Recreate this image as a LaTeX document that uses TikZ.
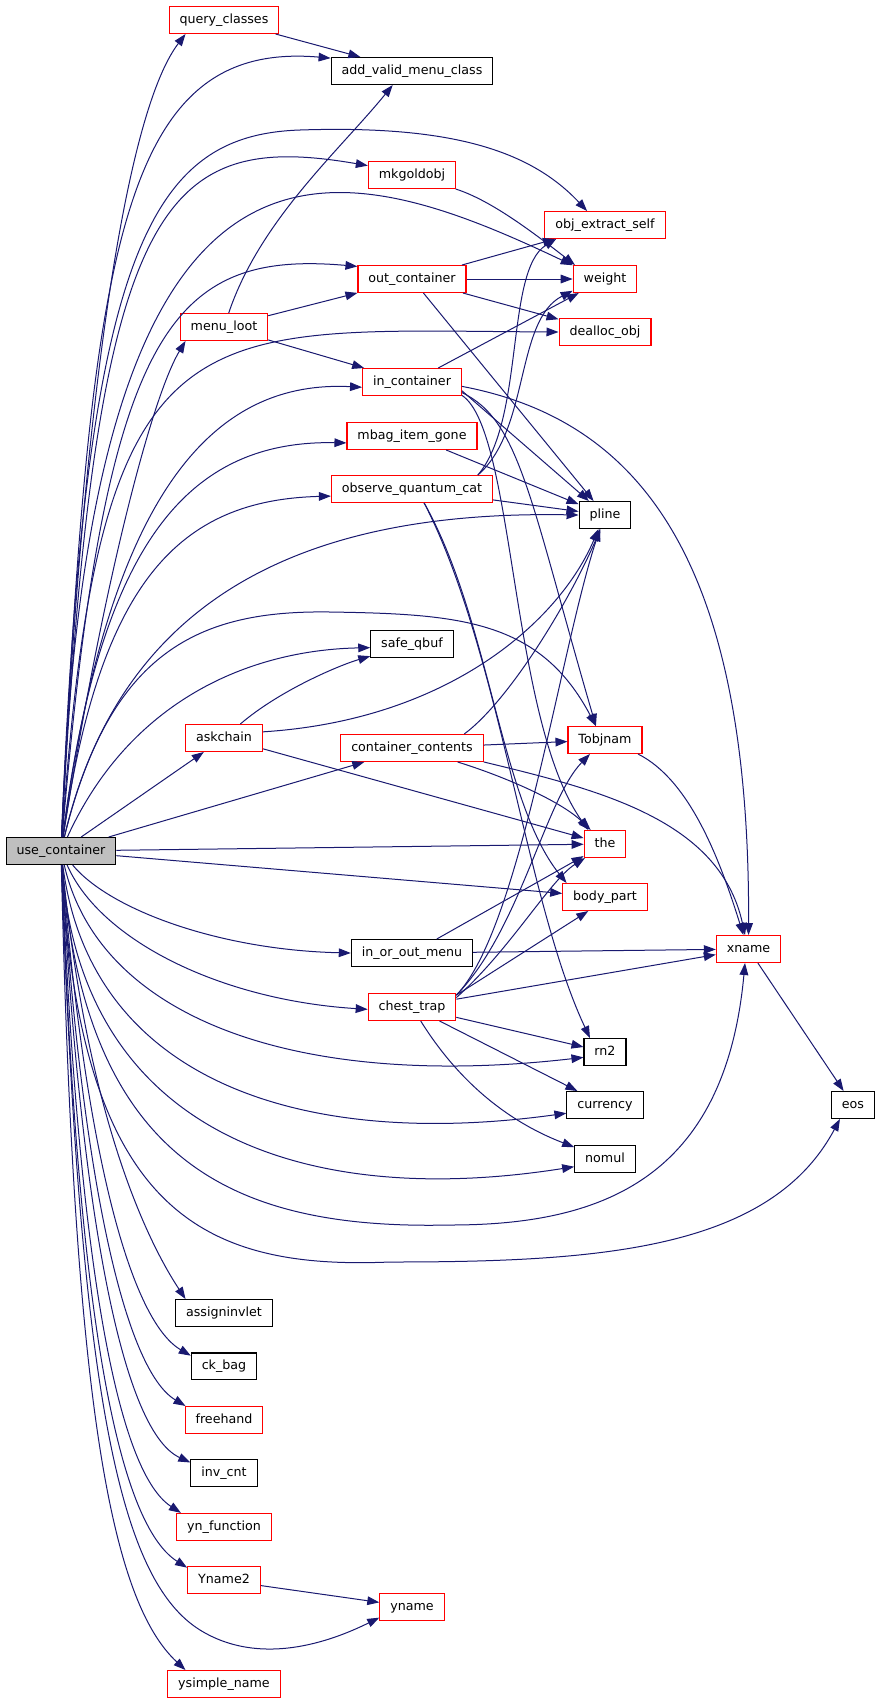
\documentclass[tikz,border=0pt]{standalone}
\usepackage{fontspec}
\setmainfont{DejaVu Sans}
\usepackage{xcolor}
\usepackage{tikz}
\usetikzlibrary{positioning,arrows.meta}
\definecolor{edgeblue}{HTML}{191970}
\definecolor{rootgrey}{HTML}{BFBFBF}
\begin{document}
\begin{tikzpicture}[x=0.75pt, y=-0.75pt, node distance={19.1pt},
  nodebox/.style = {draw, rectangle, line width=0.8pt, minimum height=20.2pt, inner xsep=7.85pt, inner ysep=0pt,
    text height=7.3pt, text depth=2.1pt, font=\fontsize{9.5pt}{11pt}\selectfont},
  redbox/.style = {nodebox, draw=red},
  blackbox/.style = {nodebox, draw=black},
  rootbox/.style = {nodebox, draw=black, fill=rootgrey},
  calls/.style = {->, draw=edgeblue, line width=0.75pt},
  >={Triangle[length=9pt, width=6.5pt]}]
      \path[use as bounding box, fill=white] (0,0) rectangle (877,1704);
      \node[rootbox] (use_container) at (61,851) {use\_container};
      \node[redbox] (query_classes) at (224,20) {query\_classes};
      \node[blackbox] (add_valid_menu_class) at (412,71) {add\_valid\_menu\_class};
      \node[redbox] (mkgoldobj) at (412,175) {mkgoldobj};
      \node[redbox] (obj_extract_self) at (605,225) {obj\_extract\_self};
      \node[redbox] (out_container) at (412,279) {out\_container};
      \node[redbox] (weight) at (605,279) {weight};
      \node[redbox] (menu_loot) at (224,327) {menu\_loot};
      \node[redbox] (dealloc_obj) at (605,332) {dealloc\_obj};
      \node[redbox] (in_container) at (412,382) {in\_container};
      \node[redbox] (mbag_item_gone) at (412,436) {mbag\_item\_gone};
      \node[redbox] (observe_quantum_cat) at (412,489) {observe\_quantum\_cat};
      \node[blackbox] (pline) at (605,515) {pline};
      \node[blackbox] (safe_qbuf) at (412,644) {safe\_qbuf};
      \node[redbox] (askchain) at (224,738) {askchain};
      \node[redbox] (container_contents) at (412,748) {container\_contents};
      \node[redbox] (Tobjnam) at (605,740) {Tobjnam};
      \node[redbox] (the) at (605,844) {the};
      \node[redbox] (body_part) at (605,897) {body\_part};
      \node[blackbox] (in_or_out_menu) at (412,953) {in\_or\_out\_menu};
      \node[redbox] (xname) at (748.5,949) {xname};
      \node[redbox] (chest_trap) at (412,1007) {chest\_trap};
      \node[blackbox] (rn2) at (605,1052) {rn2};
      \node[blackbox] (currency) at (605,1105) {currency};
      \node[blackbox] (eos) at (853,1105) {eos};
      \node[blackbox] (nomul) at (605,1159) {nomul};
      %%colonna in basso a sinistra
      \node[blackbox] (assigninvlet) at (224,1313) {assigninvlet};
      \node[blackbox] (ck_bag) [below =of assigninvlet] {ck\_bag};
      \node[redbox] (freehand) [below =of ck_bag] {freehand};
      \node[blackbox] (inv_cnt) [below =of freehand] {inv\_cnt};
      \node[redbox] (yn_function) [below =of inv_cnt] {yn\_function};
      \node[redbox] (Yname2) [below =of yn_function] {Yname2};
      \node[redbox] (yname) at (412,1607) {yname};
      \node[redbox] (ysimple_name) at (224,1684) {ysimple\_name};
      %%chiamate di use_container
      \draw[calls] (use_container) .. controls (80,450) and (120,120) .. (query_classes.200);
      \draw[calls] (use_container) .. controls (90,250) and (120,40) .. (add_valid_menu_class.171);
      \draw[calls] (use_container) .. controls (85,250) and (150,135) .. (300,130) .. controls (450,125) and (530,150) .. (obj_extract_self.142);
      \draw[calls] (use_container) .. controls (95,200) and (160,130) .. (mkgoldobj.168);
      \draw[calls] (use_container) .. controls (90,80) and (330,150) .. (weight.157);
      \draw[calls] (use_container) .. controls (105,330) and (170,250) .. (out_container.167);
      \draw[calls] (use_container) .. controls (100,600) and (150,400) .. (menu_loot.200);
      \draw[calls] (use_container) .. controls (100,300) and (190,330) .. (dealloc_obj.west);
      \draw[calls] (use_container) .. controls (110,480) and (220,380) .. (in_container.186);
      \draw[calls] (use_container) .. controls (100,540) and (190,440) .. (mbag_item_gone.186);
      \draw[calls] (use_container) .. controls (100,580) and (180,500) .. (observe_quantum_cat.185);
      \draw[calls] (use_container) .. controls (120,600) and (300,510) .. (pline.west);
      \draw[calls] (use_container) .. controls (110,650) and (200,610) .. (330,612) .. controls (460,614) and (540,620) .. (Tobjnam.123);
      \draw[calls] (use_container) .. controls (130,700) and (250,650) .. (safe_qbuf.185);
      \draw[calls] (use_container) to (askchain);
      \draw[calls] (use_container) to (container_contents);
      \draw[calls] (use_container) to (the);
      \draw[calls] (use_container) to (body_part);
      \draw[calls] (use_container) .. controls (110,910) and (220,950) .. (in_or_out_menu.west);
      \draw[calls] (use_container) .. controls (100,940) and (220,1000) .. (chest_trap.183);
      \draw[calls] (use_container) .. controls (100,1020) and (300,1090) .. (rn2.194);
      \draw[calls] (use_container) .. controls (90,1080) and (300,1150) .. (currency.192);
      \draw[calls] (use_container) .. controls (80,1130) and (300,1210) .. (nomul.194);
      \draw[calls] (use_container) .. controls (85,1160) and (230,1230) .. (450,1225) .. controls (600,1225) and (725,1180) .. (xname.256);
      \draw[calls] (use_container) .. controls (80,1210) and (200,1270) .. (390,1262) .. controls (600,1262) and (770,1250) .. (eos.227);
      \draw[calls] (use_container) .. controls (85,1100) and (140,1230) .. (assigninvlet.160);
      \draw[calls] (use_container) .. controls (85,1150) and (130,1320) .. (ck_bag.162);
      \draw[calls] (use_container) .. controls (82,1180) and (125,1370) .. (freehand.160);
      \draw[calls] (use_container) .. controls (80,1200) and (120,1430) .. (inv_cnt.162);
      \draw[calls] (use_container) .. controls (78,1250) and (115,1470) .. (yn_function.162);
      \draw[calls] (use_container) .. controls (76,1280) and (112,1520) .. (Yname2.161);
      \draw[calls] (use_container) .. controls (80,1400) and (120,1580) .. (200,1630) .. controls (260,1667) and (330,1642) .. (yname.198);
      \draw[calls] (use_container) .. controls (74,1400) and (110,1600) .. (ysimple_name.160);
      %%le altre chiamate
      \draw[calls] (query_classes) to (add_valid_menu_class);
      \draw[calls] (menu_loot) .. controls (260,220) and (340,150) .. (add_valid_menu_class.216);
      \draw[calls] (menu_loot) to (out_container);
      \draw[calls] (menu_loot) to (in_container);
      \draw[calls] (mkgoldobj) .. controls (490,200) and (530,230) .. (weight.155);
      \draw[calls] (out_container) to (obj_extract_self);
      \draw[calls] (out_container) to (weight);
      \draw[calls] (out_container) to (dealloc_obj);
      \draw[calls] (out_container) to (pline);
      \draw[calls] (in_container) to (weight);
      \draw[calls] (in_container.-10) to (pline);
      \draw[calls] (in_container.-5) .. controls (640,420) and (750,560) .. (xname);
      \draw[calls] (in_container.-12) .. controls (520,420) and (530,500) .. (Tobjnam.123);
      \draw[calls] (in_container.-15) .. controls (515,430) and (510,720) .. (the.140);
      \draw[calls] (observe_quantum_cat.12) .. controls (525,420) and (505,270) .. (obj_extract_self.196);
      \draw[calls] (observe_quantum_cat.12) .. controls (530,430) and (515,320) .. (weight.200);
      \draw[calls] (observe_quantum_cat) to (pline);
      \draw[calls] (observe_quantum_cat.-49) .. controls (490,620) and (500,800) .. (body_part.160);
      \draw[calls] (observe_quantum_cat.-49) .. controls (500,650) and (525,900) .. (rn2.137);
      \draw[calls] (mbag_item_gone) to (pline);
      \draw[calls] (askchain) .. controls (280,690) and (340,665) .. (safe_qbuf);
      \draw[calls] (askchain.9) .. controls (450,720) and (560,620) .. (pline.245);
      \draw[calls] (askchain) to (the);
      \draw[calls] (container_contents.15) .. controls (510,700) and (570,600) .. (pline.252);
      \draw[calls] (container_contents) to (Tobjnam);
      \draw[calls] (container_contents) .. controls (500,775) and (560,800) .. (the);
      \draw[calls] (container_contents.-11) .. controls (600,790) and (720,820) .. (xname.104);
      \draw[calls] (Tobjnam.-23) .. controls (690,780) and (720,860) .. (xname.110);
      \draw[calls] (chest_trap.15) .. controls (520,930) and (560,650) .. (pline.250);
      \draw[calls] (chest_trap.15) .. controls (520,930) and (545,800) .. (Tobjnam.223);
      \draw[calls] (chest_trap.12) .. controls (510,950) and (550,880) .. (the.215);
      \draw[calls] (chest_trap.15) to (body_part.220);
      \draw[calls] (chest_trap.10) to (xname);
      \draw[calls] (chest_trap) to (rn2);
      \draw[calls] (chest_trap) to (currency);
      \draw[calls] (chest_trap) .. controls (470,1100) and (530,1130) .. (nomul);
      \draw[calls] (in_or_out_menu) to (the);
      \draw[calls] (in_or_out_menu) to (xname);
      \draw[calls] (xname) to (eos);
      \draw[calls] (Yname2) to (yname);
\end{tikzpicture}
\end{document}
